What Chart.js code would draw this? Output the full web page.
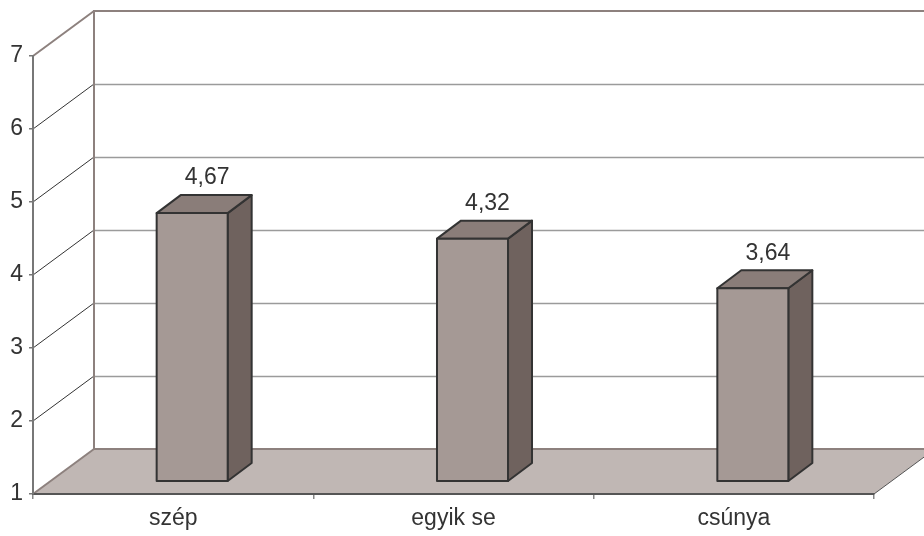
<!DOCTYPE html>
<html lang="hu">
<head>
<meta charset="UTF-8">
<title>szép / egyik se / csúnya</title>
<script src="https://cdn.jsdelivr.net/npm/chart.js@4.4.1/dist/chart.umd.min.js"></script>
<style>
  html, body { margin: 0; padding: 0; background: #fff; }
  #wrap { width: 924px; height: 536px; }
</style>
</head>
<body>
<div id="wrap"><canvas id="chart"></canvas></div>
<script>
// chart data
const categories = ['szép', 'egyik se', 'csúnya'];
const values = [4.67, 4.32, 3.64];
const yMin = 1;
const yMax = 7;

// 3d look: depth of the whole box and of the bars
const WALL_DX = 61, WALL_DY = -45;
const BAR_FX = 19, BAR_FY = -13;   // front face of bar sits a bit inside the floor
const BAR_DX = 24, BAR_DY = -18;   // bar depth

const FONT = "'Liberation Sans', Arial, sans-serif";

const box3d = {
  id: 'box3d',
  beforeDraw(chart) {
    const { ctx, chartArea: a, scales: { y } } = chart;
    const W = chart.width;
    const bx = a.left + WALL_DX, top = y.getPixelForValue(yMax) + WALL_DY;
    const floorBack = a.bottom + WALL_DY;
    ctx.save();

    // floor
    ctx.fillStyle = '#c0b7b4';
    ctx.beginPath();
    ctx.moveTo(a.left, a.bottom);
    ctx.lineTo(a.right, a.bottom);
    ctx.lineTo(a.right + WALL_DX, floorBack);
    ctx.lineTo(bx, floorBack);
    ctx.closePath();
    ctx.fill();
    ctx.strokeStyle = '#555';
    ctx.lineWidth = 1;
    ctx.beginPath();
    ctx.moveTo(a.right, a.bottom);
    ctx.lineTo(a.right + WALL_DX, floorBack);
    ctx.stroke();

    // back wall gridlines
    ctx.strokeStyle = '#9b9b9b';
    ctx.lineWidth = 1.5;
    for (let v = yMin + 1; v < yMax; v++) {
      const py = Math.round(y.getPixelForValue(v) + WALL_DY) + 0.5;
      ctx.beginPath();
      ctx.moveTo(bx, py);
      ctx.lineTo(W, py);
      ctx.stroke();
    }

    // side wall diagonals
    for (let v = yMin; v <= yMax; v++) {
      const py = y.getPixelForValue(v);
      const edge = v === yMin || v === yMax;
      ctx.strokeStyle = edge ? '#8d817e' : '#333';
      ctx.lineWidth = edge ? 2 : 1;
      ctx.beginPath();
      ctx.moveTo(a.left, py);
      ctx.lineTo(bx, py + WALL_DY);
      ctx.stroke();
    }

    // back wall frame
    ctx.strokeStyle = '#8d817e';
    ctx.lineWidth = 2;
    ctx.beginPath();
    ctx.moveTo(W, top);
    ctx.lineTo(bx, top);
    ctx.lineTo(bx, floorBack);
    ctx.lineTo(W, floorBack);
    ctx.stroke();

    ctx.restore();
  },
  afterDatasetsDraw(chart) {
    const { ctx, scales: { y: ys } } = chart;
    const meta = chart.getDatasetMeta(0);
    const basePx = ys.getPixelForValue(yMin);
    ctx.save();
    ctx.lineJoin = 'round';
    ctx.strokeStyle = '#333';
    ctx.lineWidth = 2;
    meta.data.forEach((bar, i) => {
      const { x, width } = bar.getProps(['x', 'width'], true);
      const L = x - width / 2 + BAR_FX, R = x + width / 2 + BAR_FX;
      const T = ys.getPixelForValue(values[i]) + BAR_FY, B = basePx + BAR_FY;
      const poly = (pts, fill) => {
        ctx.beginPath();
        pts.forEach((p, k) => k ? ctx.lineTo(p[0], p[1]) : ctx.moveTo(p[0], p[1]));
        ctx.closePath();
        ctx.fillStyle = fill;
        ctx.fill();
        ctx.stroke();
      };
      poly([[R, T], [R + BAR_DX, T + BAR_DY], [R + BAR_DX, B + BAR_DY], [R, B]], '#6f625e');
      poly([[L, T], [R, T], [R + BAR_DX, T + BAR_DY], [L + BAR_DX, T + BAR_DY]], '#8a7d79');
      poly([[L, T], [R, T], [R, B], [L, B]], '#a59995');

      ctx.fillStyle = '#333';
      ctx.font = '23px ' + FONT;
      ctx.textAlign = 'center';
      ctx.textBaseline = 'middle';
      ctx.fillText(values[i].toFixed(2).replace('.', ','), (L + R) / 2 + 15, T + BAR_DY - 17);
    });
    ctx.restore();
  }
};

new Chart(document.getElementById('chart'), {
  type: 'bar',
  data: {
    labels: categories,
    datasets: [{
      data: values,
      backgroundColor: 'rgba(0,0,0,0)',
      borderWidth: 0,
      categoryPercentage: 1,
      barPercentage: 0.2533
    }]
  },
  options: {
    responsive: true,
    maintainAspectRatio: false,
    animation: false,
    layout: { padding: { left: 0, top: 56, right: 50, bottom: 0 } },
    plugins: { legend: { display: false }, tooltip: { enabled: false } },
    scales: {
      x: {
        grid: { display: true, drawOnChartArea: false, drawTicks: true, tickLength: 5, color: '#888', lineWidth: 1.5 },
        border: { display: true, color: '#555', width: 2 },
        ticks: { color: '#333', font: { family: FONT, size: 23 }, padding: 6 },
        afterFit(s) { s.height = 42; }
      },
      y: {
        min: yMin,
        max: yMax,
        grid: { display: true, drawOnChartArea: false, drawTicks: true, tickLength: 4, color: '#777', lineWidth: 1.5 },
        border: { display: true, color: '#777', width: 2 },
        ticks: { stepSize: 1, color: '#333', font: { family: FONT, size: 23 }, padding: 6 },
        afterFit(s) { s.width = 33; }
      }
    }
  },
  plugins: [box3d]
});
</script>
</body>
</html>
